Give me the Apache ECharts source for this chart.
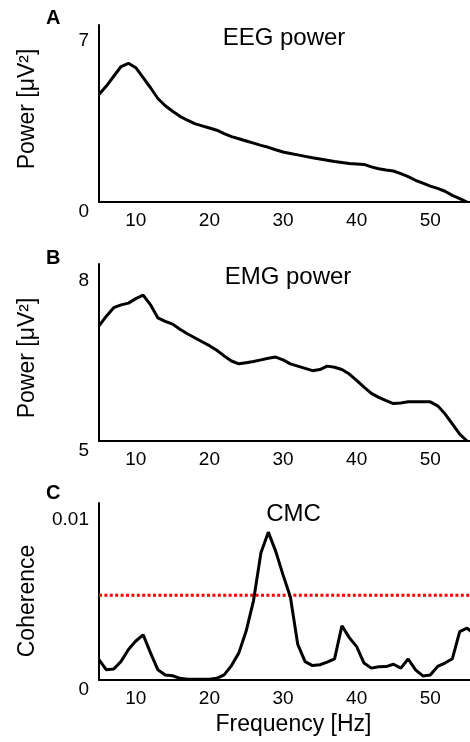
<!DOCTYPE html>
<html><head><meta charset="utf-8">
<script src="https://cdn.jsdelivr.net/npm/echarts@6/dist/echarts.min.js"></script>
<style>html,body{margin:0;padding:0;background:#fff}#c{width:470px;height:742px}</style>
</head><body><div id="c"></div>
<script>
// Frequencies (Hz)
const freqs = [5,6,7,8,9,10,11,12,13,14,15,16,17,18,19,20,21,22,23,24,25,26,27,28,29,30,31,32,33,34,35,36,37,38,39,40,41,42,43,44,45,46,47,48,49,50,51,52,53,54,55];
const cmcFreqs = [5,6,7,8,9,10,11,12,13,14,15,16,17,18,19,20,21,22,23,24,25,26,27,28,29,30,31,32,33,34,35,36,37,38,39,40,41,42,43,44,45,46,47,48,49,50,51,52,53,54,55,56];
// Panel A: EEG power [uV^2]
const eegPower = [4.4,4.75,5.15,5.55,5.68,5.5,5.09,4.68,4.24,3.94,3.72,3.51,3.35,3.21,3.12,3.03,2.94,2.8,2.68,2.59,2.5,2.41,2.32,2.24,2.14,2.05,1.99,1.93,1.87,1.81,1.76,1.71,1.66,1.62,1.58,1.56,1.54,1.44,1.36,1.31,1.27,1.16,1.04,0.89,0.77,0.65,0.56,0.44,0.27,0.14,0.0];
// Panel B: EMG power [uV^2]
const emgPower = [7.03,7.2,7.35,7.4,7.43,7.51,7.57,7.4,7.17,7.11,7.06,6.97,6.89,6.82,6.75,6.68,6.6,6.5,6.41,6.36,6.38,6.4,6.43,6.46,6.48,6.43,6.36,6.32,6.28,6.24,6.26,6.32,6.3,6.26,6.18,6.07,5.95,5.84,5.77,5.71,5.66,5.67,5.69,5.69,5.69,5.69,5.62,5.48,5.3,5.12,5.0];
// Panel C: corticomuscular coherence
const coherence = [0.0012,0.0006,0.00065,0.0011,0.0018,0.0023,0.00266,0.0016,0.0006,0.0003,0.00025,0.0001,0.00005,0.00005,0.00005,0.00005,0.0001,0.0003,0.00085,0.0016,0.0029,0.0047,0.0075,0.00872,0.0076,0.0062,0.0049,0.0021,0.00108,0.00085,0.0009,0.00105,0.00125,0.0032,0.0025,0.00197,0.001,0.0007,0.00078,0.00079,0.00093,0.0007,0.00124,0.0006,0.00024,0.0003,0.0008,0.001,0.00125,0.00285,0.00306,0.0027];
const threshold = 0.005;
// Tick labels
const xTicks = [10,20,30,40,50];
const eegTicks = [0,7];
const emgTicks = [5,8];
const cmcTicks = [0,0.01];

const FONT = 'Liberation Sans';
const chart = echarts.init(document.getElementById('c'), null, {renderer:'canvas'});

function xAx(g, name){
  const a = {
    type:'value', gridIndex:g, min:5, max:55.4,
    axisLine:{show:true, onZero:false, lineStyle:{color:'#000', width:2}},
    axisTick:{show:false}, splitLine:{show:false},
    axisLabel:{customValues:xTicks, fontSize:19, color:'#000', margin:9, fontFamily:FONT}
  };
  if (name){
    a.name = name; a.nameLocation='middle'; a.nameGap=33.5;
    a.nameTextStyle = {fontSize:23, color:'#000', fontFamily:FONT, padding:[0,0,0,18]};
  }
  return a;
}
function yAx(g, min, max, ticks, name, pad){
  return {
    type:'value', gridIndex:g, min:min, max:max,
    axisLine:{show:true, onZero:false, lineStyle:{color:'#000', width:2}},
    axisTick:{show:false}, splitLine:{show:false},
    axisLabel:{customValues:ticks, fontSize:19, color:'#000', margin:10, verticalAlign:'top', fontFamily:FONT},
    name:name, nameLocation:'middle', nameGap:60,
    nameTextStyle:{fontSize:23, color:'#000', fontFamily:FONT, padding:pad}
  };
}
function ttl(text, x, y, size, bold){
  return {text:text, left:x, top:y, padding:0, textAlign: bold ? 'left' : 'center', textVerticalAlign:'top',
    textStyle:{fontSize:size, fontWeight: bold ? 'bold' : 'normal', color:'#000', fontFamily:FONT}};
}

const option = {
  animation:false,
  backgroundColor:'#fff',
  textStyle:{fontFamily:FONT},
  title:[
    ttl('A', 46, 8, 20, true),
    ttl('B', 46, 248.5, 20, true),
    ttl('C', 46, 483.5, 20, true),
    ttl('EEG power', 284, 26, 24, false),
    ttl('EMG power', 288, 265, 24, false),
    ttl('CMC', 293.5, 502, 24, false)
  ],
  grid:[
    {left:99, top:25, width:371, height:177, outerBoundsMode:'none'},
    {left:99, top:264, width:371, height:177, outerBoundsMode:'none'},
    {left:99, top:503, width:371, height:177, outerBoundsMode:'none'}
  ],
  xAxis:[xAx(0), xAx(1), xAx(2, 'Frequency [Hz]')],
  yAxis:[
    yAx(0, 0, 7.25, eegTicks, 'Power [μV²]', [0,0,0,9]),
    yAx(1, 5, 8.12, emgTicks, 'Power [μV²]', [0,11,0,0]),
    yAx(2, 0, 0.01044, cmcTicks, 'Coherence', [0,19,0,0])
  ],
  series:[
    {type:'line', xAxisIndex:0, yAxisIndex:0, showSymbol:false, symbol:'none',
      lineStyle:{color:'#000', width:3}, data:freqs.map((f,i)=>[f, eegPower[i]])},
    {type:'line', xAxisIndex:1, yAxisIndex:1, showSymbol:false, symbol:'none',
      lineStyle:{color:'#000', width:3}, data:freqs.map((f,i)=>[f, emgPower[i]])},
    {type:'line', xAxisIndex:2, yAxisIndex:2, showSymbol:false, symbol:'none',
      lineStyle:{color:'#ff0000', width:3, type:[3,2.4]}, data:[[5,threshold],[55.4,threshold]]},
    {type:'line', xAxisIndex:2, yAxisIndex:2, showSymbol:false, symbol:'none',
      lineStyle:{color:'#000', width:3}, data:cmcFreqs.map((f,i)=>[f, coherence[i]])}
  ]
};
chart.setOption(option);
</script>
</body></html>
